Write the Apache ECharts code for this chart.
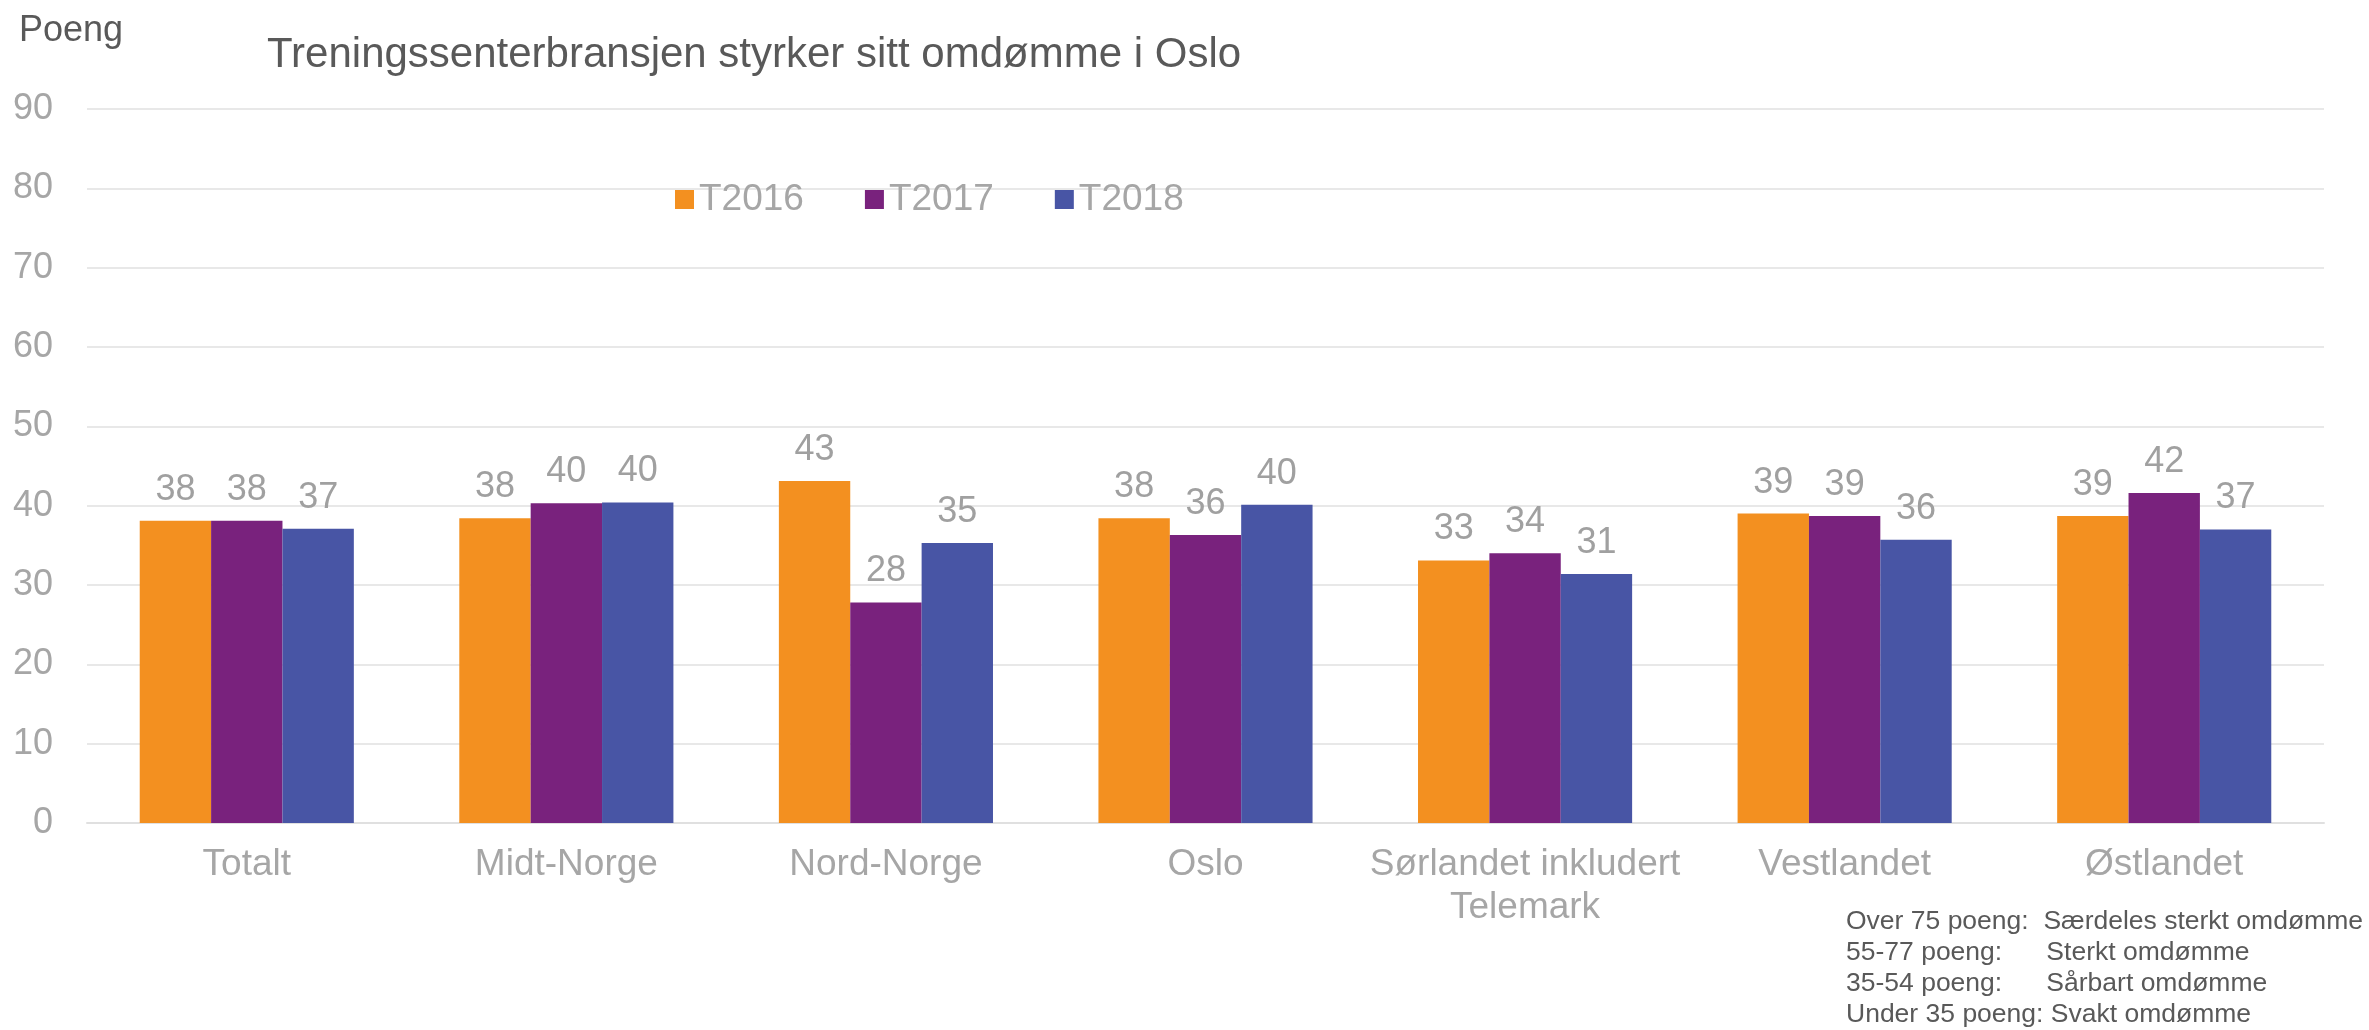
<!DOCTYPE html>
<html>
<head>
<meta charset="utf-8">
<title>Treningssenterbransjen</title>
<script src="https://cdn.jsdelivr.net/npm/echarts@6/dist/echarts.min.js"></script>
<style>
  html, body { margin: 0; padding: 0; background: #fff; }
  #chart { width: 2369px; height: 1030px; }
</style>
</head>
<body>
<div id="chart"></div>
<script>
// data
const categories = ['Totalt', 'Midt-Norge', 'Nord-Norge', 'Oslo', 'Sørlandet inkludert\nTelemark', 'Vestlandet', 'Østlandet']
const seriesNames = ['T2016', 'T2017', 'T2018']
const t2016 = [38.1, 38.4, 43.1, 38.4, 33.1, 39.0, 38.7]
const t2017 = [38.1, 40.3, 27.8, 36.3, 34.0, 38.7, 41.6]
const t2018 = [37.1, 40.4, 35.3, 40.1, 31.4, 35.7, 37.0]
const notes = [
    'Over 75 poeng:  Særdeles sterkt omdømme',
    '55-77 poeng:      Sterkt omdømme',
    '35-54 poeng:      Sårbart omdømme',
    'Under 35 poeng: Svakt omdømme'
]

const FONT = '"Liberation Sans", Arial, sans-serif'
const colors = ['#F39020', '#79227D', '#4855A5']

const chart = echarts.init(document.getElementById('chart'))

const makeSeries = (name, data, i) => ({
    name: name,
    type: 'bar',
    data: data,
    barGap: '0%',
    barCategoryGap: '33%',
    itemStyle: { color: colors[i] },
    label: {
        show: true,
        position: 'top',
        distance: 13,
        color: '#a0a0a0',
        fontSize: 36,
        fontFamily: FONT,
        formatter: p => Math.round(p.value)
    }
})

const option = {
    animation: false,
    backgroundColor: '#fff',
    title: [
        {
            text: 'Poeng',
            left: 14,
            top: 8,
            textStyle: { color: '#595959', fontSize: 36, fontWeight: 'normal', fontFamily: FONT }
        },
        {
            text: 'Treningssenterbransjen styrker sitt omdømme i Oslo',
            left: 262,
            top: 29,
            textStyle: { color: '#595959', fontSize: 42, fontWeight: 'normal', fontFamily: FONT }
        }
    ],
    legend: {
        data: seriesNames,
        left: 670,
        top: 176,
        itemWidth: 19,
        itemHeight: 19,
        itemGap: 61,
        icon: 'rect',
        textStyle: { color: '#a6a6a6', fontSize: 37, fontFamily: FONT }
    },
    grid: { left: 87, right: 45, top: 109, bottom: 207 },
    xAxis: {
        type: 'category',
        data: categories,
        axisLine: { lineStyle: { color: '#e0e0e0', width: 2 } },
        axisTick: { show: false },
        axisLabel: {
            color: '#a6a6a6',
            fontSize: 37,
            lineHeight: 43,
            margin: 20,
            fontFamily: FONT,
            interval: 0
        }
    },
    yAxis: {
        type: 'value',
        min: 0,
        max: 90,
        interval: 10,
        axisLine: { show: false },
        axisTick: { show: false },
        splitLine: { lineStyle: { color: '#e8e8e8', width: 2 } },
        axisLabel: { color: '#a6a6a6', fontSize: 36, margin: 34, fontFamily: FONT }
    },
    graphic: [
        {
            type: 'text',
            left: 1846,
            top: 906,
            style: {
                text: notes.join('\n'),
                fill: '#595959',
                font: '26.5px ' + FONT,
                lineHeight: 31
            }
        }
    ],
    series: [
        makeSeries(seriesNames[0], t2016, 0),
        makeSeries(seriesNames[1], t2017, 1),
        makeSeries(seriesNames[2], t2018, 2)
    ]
}

chart.setOption(option)
</script>
</body>
</html>
